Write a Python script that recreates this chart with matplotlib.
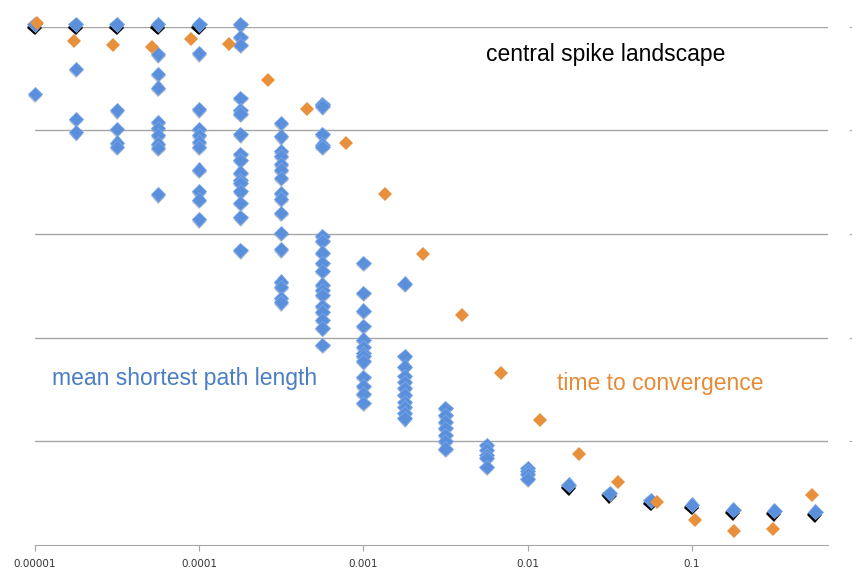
import matplotlib
matplotlib.use('Agg')
import matplotlib.pyplot as plt
import matplotlib.patheffects as pe

# x positions of the blue (mean shortest path length) columns
# regular points
spl_x = ([0.00001] + [0.0000178] * 3 + [0.0000316] * 4 + [0.0000562] * 9
         + [0.0001] * 10 + [0.000178] * 16 + [0.000316] * 16 + [0.000562] * 18
         + [0.001] * 13 + [0.00178] * 11 + [0.00316] * 7 + [0.00562] * 5 + [0.01] * 4)
spl_y = [4.35,
         4.59, 4.11, 3.98,
         4.19, 4.01, 3.88, 3.84,
         4.73, 4.54, 4.41, 4.08, 4.02, 3.95, 3.87, 3.83, 3.38,
         4.74, 4.20, 4.01, 3.95, 3.89, 3.84, 3.62, 3.41, 3.33, 3.14,
         5.02, 4.90, 4.82, 4.31, 4.19, 4.16, 3.96, 3.77, 3.71, 3.59, 3.52, 3.49, 3.41, 3.30, 3.16, 2.84,
         4.07, 3.94, 3.80, 3.75, 3.67, 3.62, 3.54, 3.39, 3.34, 3.20, 3.01, 2.85, 2.54, 2.49, 2.38, 2.34,
         4.25, 4.23, 3.96, 3.86, 3.84, 2.98, 2.93, 2.82, 2.72, 2.64, 2.51, 2.46, 2.41, 2.30, 2.25, 2.17, 2.09, 1.93,
         2.72, 2.43, 2.26, 2.11, 1.98, 1.91, 1.85, 1.82, 1.77, 1.62, 1.53, 1.46, 1.37,
         2.52, 1.82, 1.72, 1.63, 1.57, 1.51, 1.45, 1.38, 1.33, 1.27, 1.22,
         1.32, 1.25, 1.19, 1.13, 1.06, 1.00, 0.93,
         0.96, 0.92, 0.87, 0.84, 0.75,
         0.74, 0.71, 0.68, 0.64]

# points where many runs coincide (drawn with heavy shadow)
spl_dense_x = [0.00001, 0.0000178, 0.0000316, 0.0000562, 0.0001,
               0.0178, 0.0316, 0.0562, 0.1, 0.178, 0.316, 0.562]
spl_dense_y = [5.02, 5.02, 5.02, 5.02, 5.02,
               0.58, 0.50, 0.43, 0.39, 0.34, 0.33, 0.32]

# time to convergence
ttc_x = [0.0000103, 0.0000174, 0.0000298, 0.0000519, 0.0000889, 0.000153, 0.000264,
         0.000456, 0.00078, 0.00135, 0.00232, 0.0040, 0.00691, 0.0119, 0.0205,
         0.0353, 0.0610, 0.105, 0.181, 0.310, 0.540]
ttc_y = [5.03, 4.86, 4.82, 4.80, 4.88, 4.83, 4.48, 4.20, 3.88, 3.38, 2.81,
         2.22, 1.66, 1.21, 0.88, 0.61, 0.41, 0.24, 0.135, 0.15, 0.48]

xticks = [0.00001, 0.0001, 0.001, 0.01, 0.1]
xtick_labels = ['0.00001', '0.0001', '0.001', '0.01', '0.1']
grid_levels = [1, 2, 3, 4, 5]

blue = '#5a8fdc'
blue_edge = '#79a6ea'
orange = '#e8903c'

fig = plt.figure(figsize=(8.52, 5.71), dpi=100)
ax = fig.add_axes([34.8 / 852, 26 / 571, (828 - 34.8) / 852, (545 - 26.5) / 571])
ax.set_xscale('log')
ax.set_xlim(0.00001, 0.673)
ax.set_ylim(0, 5)

for lv in grid_levels:
    ax.axhline(lv, color='#a6a6a6', lw=1, zorder=0)

ax.plot(spl_x, spl_y, 'D', ms=7.4, color=blue, mec=blue_edge, mew=0.6, clip_on=False, zorder=2,
        path_effects=[pe.SimplePatchShadow(offset=(0.2, -1.4), shadow_rgbFace='#555555', alpha=0.35),
                      pe.Normal()])
ax.plot(spl_dense_x, spl_dense_y, 'D', ms=7.6, color=blue, mec=blue_edge, mew=0.6, clip_on=False, zorder=3,
        path_effects=[pe.SimplePatchShadow(offset=(-0.6, -1.6), shadow_rgbFace='black', alpha=0.6),
                      pe.SimplePatchShadow(offset=(-0.2, -2.4), shadow_rgbFace='black', alpha=0.95),
                      pe.Normal()])
ax.plot(ttc_x, ttc_y, 'D', ms=7, color=orange, mec=orange, mew=0, clip_on=False, zorder=4)

for s in ['top', 'left', 'right']:
    ax.spines[s].set_visible(False)
ax.spines['bottom'].set_color('#a6a6a6')
ax.set_xticks(xticks)
ax.set_xticklabels(xtick_labels)
ax.minorticks_off()
ax.tick_params(axis='x', which='major', length=4, color='#a6a6a6', labelsize=7.5,
               labelcolor='#333333', pad=6)
ax.set_yticks([])

# small unlabelled ticks on the far right
ax2 = ax.twinx()
ax2.set_ylim(0, 5)
for s in ['top', 'left', 'bottom', 'right']:
    ax2.spines[s].set_visible(False)
ax2.spines['right'].set_position(('outward', 15))
ax2.set_yticks(grid_levels)
ax2.set_yticklabels([])
ax2.tick_params(axis='y', length=3, color='#a6a6a6', direction='out')

fig.text(0.711, 0.904, 'central spike landscape', fontsize=16.5, color='black',
         ha='center', va='center', family='Liberation Sans')
fig.text(0.061, 0.338, 'mean shortest path length', fontsize=16.5, color='#4a7ec4',
         ha='left', va='center', family='Liberation Sans')
fig.text(0.654, 0.329, 'time to convergence', fontsize=16.5, color='#e58a35',
         ha='left', va='center', family='Liberation Sans')

fig.savefig('out.png', dpi=100)
